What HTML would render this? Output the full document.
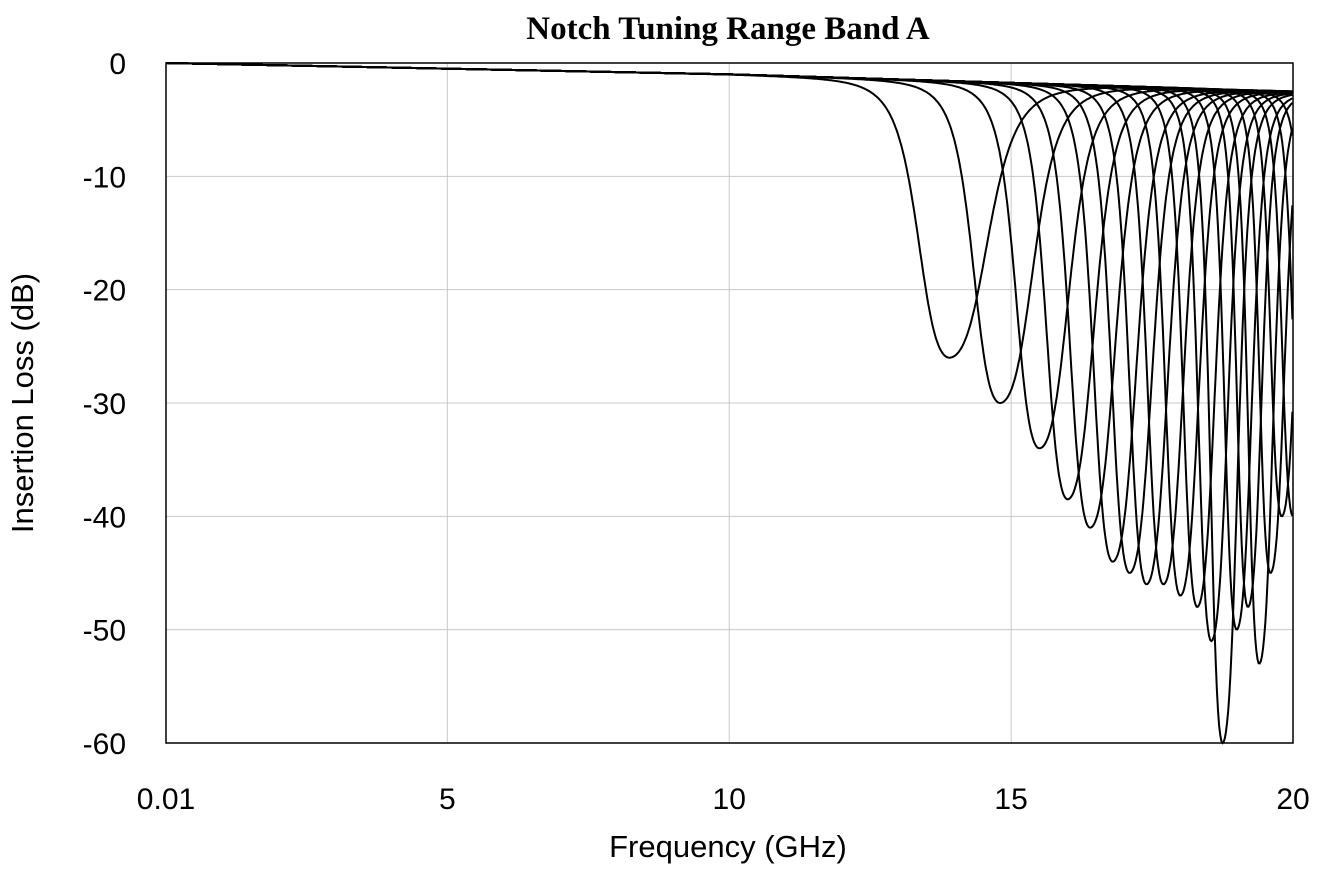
<!DOCTYPE html>
<html><head><meta charset="utf-8"><style>
body{margin:0;background:#fff;}
svg text{font-family:"Liberation Sans",sans-serif;}
</style></head><body>
<svg width="1328" height="868" xmlns="http://www.w3.org/2000/svg">
<text x="728" y="39" text-anchor="middle" style="font-family:'Liberation Serif',serif;font-weight:bold;font-size:33px">Notch Tuning Range Band A</text>
<g id="grid"></g>
<g id="curves"></g>
<rect x="166" y="63" width="1127" height="680" fill="none" stroke="#000" stroke-width="1.5"/>
<g id="ticks"></g>
<text x="728" y="857" text-anchor="middle" font-size="31">Frequency (GHz)</text>
<text transform="translate(33,403) rotate(-90)" text-anchor="middle" font-size="31">Insertion Loss (dB)</text>
</svg>
<script>
const xTicks=[0.01,5,10,15,20];
const xTickLabels=["0.01","5","10","15","20"];
const yTicks=[0,-10,-20,-30,-40,-50,-60];
const notchCenters=[13.9,14.8,15.5,16.0,16.4,16.8,17.1,17.4,17.7,18.0,18.3,18.55,18.75,19.0,19.2,19.4,19.6,19.8,20.0,20.2,20.4];
const notchDepths=[-26,-30,-34,-38.5,-41,-44,-45,-46,-46,-47,-48,-51,-60,-50,-48,-53,-45,-40,-40,-40,-40];
const notchWidths=[0.6,0.52,0.46,0.42,0.4,0.38,0.36,0.34,0.32,0.3,0.28,0.26,0.24,0.24,0.22,0.22,0.22,0.22,0.22,0.22,0.22];
const X0=166,X1=1293,Y0=63,Y1=743;
const sx=f=>X0+(f-0.01)/(20-0.01)*(X1-X0);
const sy=v=>Y0+(-v)/60*(Y1-Y0);
const NS="http://www.w3.org/2000/svg";
const grid=document.getElementById('grid'),ticks=document.getElementById('ticks'),curves=document.getElementById('curves');
xTicks.forEach((t,i)=>{
 const l=document.createElementNS(NS,'line');
 l.setAttribute('x1',sx(t));l.setAttribute('x2',sx(t));l.setAttribute('y1',Y0);l.setAttribute('y2',Y1);l.setAttribute('stroke','#c8c8c8');
 
 
 grid.appendChild(l);
 const tx=document.createElementNS(NS,'text');
 tx.setAttribute('x',sx(t));tx.setAttribute('y',809);tx.setAttribute('text-anchor','middle');tx.setAttribute('font-size','30');
 tx.textContent=xTickLabels[i];
 
 
 ticks.appendChild(tx);
});
yTicks.forEach(t=>{
 const l=document.createElementNS(NS,'line');
 l.setAttribute('x1',X0);l.setAttribute('x2',X1);l.setAttribute('y1',sy(t));l.setAttribute('y2',sy(t));l.setAttribute('stroke','#c8c8c8');
 
 
 grid.appendChild(l);
 const tx=document.createElementNS(NS,'text');
 tx.setAttribute('x',126);tx.setAttribute('y',sy(t)+11);tx.setAttribute('text-anchor','end');tx.setAttribute('font-size','30');
 tx.textContent=String(t);
 
 
 ticks.appendChild(tx);
});
function base(f){return f<10?-f*0.1:-1-(f-10)*0.15;}
notchCenters.forEach((c,i)=>{
 const d=notchDepths[i],w=notchWidths[i];
 const dd=d-base(c);
 let p='';
 for(let f=0.01;f<=20.0001;f+=0.02){
  let u=(f-c)/w;
  if(u>0)u=u*0.8;
  let v=base(f)+dd/(1+u*u*u*u*0.6+u*u*0.4);
  if(v<-60)v=-60;
  p+=(p?'L':'M')+sx(f).toFixed(1)+','+sy(v).toFixed(1);
 }
 const pa=document.createElementNS(NS,'path');
 pa.setAttribute('d',p);pa.setAttribute('fill','none');pa.setAttribute('stroke','#000');pa.setAttribute('stroke-width','2');
 
 
 curves.appendChild(pa);
});
</script>
</body></html>
